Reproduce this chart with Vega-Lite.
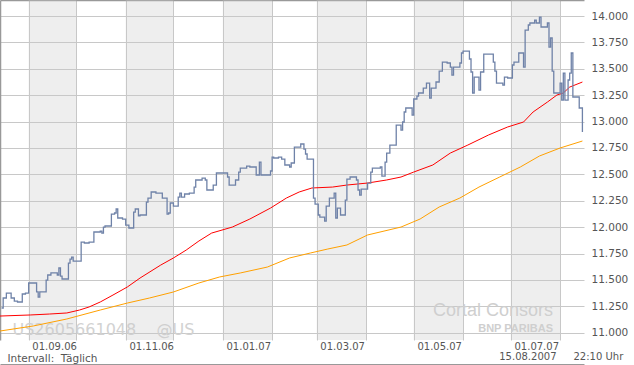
{
  "$schema": "https://vega.github.io/schema/vega-lite/v6.json",
  "width": 584,
  "height": 340,
  "autosize": {"type": "none"},
  "padding": {"left": 0, "top": 0, "right": 50, "bottom": 25},
  "background": "white",
  "config": {
    "view": {"stroke": null},
    "font": "DejaVu Sans",
    "axis": {"labelFont": "DejaVu Sans", "titleFont": "DejaVu Sans", "titleFontWeight": "normal"}
  },
  "title": {
    "text": "Cortal Consors",
    "subtitle": "BNP PARIBAS",
    "orient": "top",
    "anchor": "end",
    "frame": "group",
    "dx": -31,
    "dy": 338,
    "font": "Liberation Sans",
    "fontSize": 18,
    "fontWeight": "normal",
    "color": "#cfcfcf",
    "subtitleFont": "Liberation Sans",
    "subtitleFontSize": 11,
    "subtitleFontWeight": "bold",
    "subtitleColor": "#cfcfcf",
    "subtitlePadding": 3
  },
  "datasets": {
    "bands": [
      {"start": "2006-09-01", "end": "2006-10-01"},
      {"start": "2006-11-01", "end": "2006-12-01"},
      {"start": "2007-01-01", "end": "2007-02-01"},
      {"start": "2007-03-01", "end": "2007-04-01"},
      {"start": "2007-05-01", "end": "2007-06-01"},
      {"start": "2007-07-01", "end": "2007-08-01"}
    ],
    "price": [
      {"d": "2006-08-15", "v": 11.234}, {"d": "2006-08-16", "v": 11.329}, {"d": "2006-08-18", "v": 11.376},
      {"d": "2006-08-21", "v": 11.329}, {"d": "2006-08-23", "v": 11.300}, {"d": "2006-08-25", "v": 11.291},
      {"d": "2006-08-28", "v": 11.367}, {"d": "2006-08-30", "v": 11.376}, {"d": "2006-09-01", "v": 11.471},
      {"d": "2006-09-06", "v": 11.386}, {"d": "2006-09-07", "v": 11.338}, {"d": "2006-09-08", "v": 11.386},
      {"d": "2006-09-12", "v": 11.499}, {"d": "2006-09-13", "v": 11.547}, {"d": "2006-09-15", "v": 11.566},
      {"d": "2006-09-19", "v": 11.547}, {"d": "2006-09-20", "v": 11.613}, {"d": "2006-09-21", "v": 11.537},
      {"d": "2006-09-22", "v": 11.509}, {"d": "2006-09-26", "v": 11.660}, {"d": "2006-09-27", "v": 11.698},
      {"d": "2006-09-28", "v": 11.717}, {"d": "2006-09-29", "v": 11.679}, {"d": "2006-10-04", "v": 11.859},
      {"d": "2006-10-06", "v": 11.850}, {"d": "2006-10-09", "v": 11.859}, {"d": "2006-10-12", "v": 11.954},
      {"d": "2006-10-16", "v": 11.963}, {"d": "2006-10-17", "v": 11.944}, {"d": "2006-10-18", "v": 12.001},
      {"d": "2006-10-19", "v": 12.011}, {"d": "2006-10-23", "v": 12.124}, {"d": "2006-10-25", "v": 12.134},
      {"d": "2006-10-26", "v": 12.172}, {"d": "2006-10-27", "v": 12.087}, {"d": "2006-10-30", "v": 12.077},
      {"d": "2006-11-01", "v": 12.020}, {"d": "2006-11-03", "v": 11.992}, {"d": "2006-11-06", "v": 12.143},
      {"d": "2006-11-07", "v": 12.172}, {"d": "2006-11-09", "v": 12.106}, {"d": "2006-11-10", "v": 12.115},
      {"d": "2006-11-14", "v": 12.238}, {"d": "2006-11-15", "v": 12.276}, {"d": "2006-11-17", "v": 12.333},
      {"d": "2006-11-20", "v": 12.323}, {"d": "2006-11-24", "v": 12.276}, {"d": "2006-11-27", "v": 12.124},
      {"d": "2006-11-28", "v": 12.134}, {"d": "2006-11-29", "v": 12.229}, {"d": "2006-12-01", "v": 12.200},
      {"d": "2006-12-04", "v": 12.285}, {"d": "2006-12-05", "v": 12.323}, {"d": "2006-12-06", "v": 12.285},
      {"d": "2006-12-08", "v": 12.314}, {"d": "2006-12-11", "v": 12.323}, {"d": "2006-12-14", "v": 12.380},
      {"d": "2006-12-15", "v": 12.447}, {"d": "2006-12-19", "v": 12.465}, {"d": "2006-12-21", "v": 12.447},
      {"d": "2006-12-22", "v": 12.352}, {"d": "2006-12-26", "v": 12.399}, {"d": "2006-12-28", "v": 12.513},
      {"d": "2007-01-04", "v": 12.475}, {"d": "2007-01-05", "v": 12.399}, {"d": "2007-01-09", "v": 12.447},
      {"d": "2007-01-11", "v": 12.522}, {"d": "2007-01-12", "v": 12.560}, {"d": "2007-01-16", "v": 12.579},
      {"d": "2007-01-18", "v": 12.570}, {"d": "2007-01-22", "v": 12.494}, {"d": "2007-01-24", "v": 12.617},
      {"d": "2007-01-25", "v": 12.494}, {"d": "2007-01-31", "v": 12.532}, {"d": "2007-02-01", "v": 12.664},
      {"d": "2007-02-02", "v": 12.655}, {"d": "2007-02-05", "v": 12.664}, {"d": "2007-02-07", "v": 12.645},
      {"d": "2007-02-09", "v": 12.589}, {"d": "2007-02-12", "v": 12.570}, {"d": "2007-02-13", "v": 12.608},
      {"d": "2007-02-15", "v": 12.759}, {"d": "2007-02-19", "v": 12.788}, {"d": "2007-02-21", "v": 12.740},
      {"d": "2007-02-22", "v": 12.693}, {"d": "2007-02-23", "v": 12.645}, {"d": "2007-02-27", "v": 12.276},
      {"d": "2007-02-28", "v": 12.219}, {"d": "2007-03-02", "v": 12.115}, {"d": "2007-03-03", "v": 12.096},
      {"d": "2007-03-06", "v": 12.058}, {"d": "2007-03-07", "v": 12.200}, {"d": "2007-03-09", "v": 12.276},
      {"d": "2007-03-12", "v": 12.323}, {"d": "2007-03-13", "v": 12.087}, {"d": "2007-03-14", "v": 12.181},
      {"d": "2007-03-16", "v": 12.115}, {"d": "2007-03-19", "v": 12.257}, {"d": "2007-03-20", "v": 12.456},
      {"d": "2007-03-22", "v": 12.475}, {"d": "2007-03-26", "v": 12.447}, {"d": "2007-03-27", "v": 12.352},
      {"d": "2007-03-28", "v": 12.304}, {"d": "2007-03-29", "v": 12.361}, {"d": "2007-04-02", "v": 12.418},
      {"d": "2007-04-04", "v": 12.522}, {"d": "2007-04-05", "v": 12.560}, {"d": "2007-04-10", "v": 12.570},
      {"d": "2007-04-11", "v": 12.484}, {"d": "2007-04-13", "v": 12.617}, {"d": "2007-04-14", "v": 12.702},
      {"d": "2007-04-16", "v": 12.778}, {"d": "2007-04-20", "v": 12.967}, {"d": "2007-04-23", "v": 12.920},
      {"d": "2007-04-24", "v": 12.996}, {"d": "2007-04-25", "v": 13.091}, {"d": "2007-04-26", "v": 13.129},
      {"d": "2007-04-30", "v": 13.062}, {"d": "2007-05-01", "v": 13.214}, {"d": "2007-05-03", "v": 13.242},
      {"d": "2007-05-04", "v": 13.271}, {"d": "2007-05-07", "v": 13.318}, {"d": "2007-05-09", "v": 13.365},
      {"d": "2007-05-11", "v": 13.223}, {"d": "2007-05-12", "v": 13.318}, {"d": "2007-05-15", "v": 13.375},
      {"d": "2007-05-17", "v": 13.479}, {"d": "2007-05-19", "v": 13.564}, {"d": "2007-05-22", "v": 13.555},
      {"d": "2007-05-24", "v": 13.517}, {"d": "2007-05-25", "v": 13.441}, {"d": "2007-05-26", "v": 13.517},
      {"d": "2007-05-30", "v": 13.555}, {"d": "2007-05-31", "v": 13.650}, {"d": "2007-06-01", "v": 13.668},
      {"d": "2007-06-05", "v": 13.593}, {"d": "2007-06-06", "v": 13.470}, {"d": "2007-06-07", "v": 13.271},
      {"d": "2007-06-08", "v": 13.422}, {"d": "2007-06-11", "v": 13.299}, {"d": "2007-06-12", "v": 13.470},
      {"d": "2007-06-14", "v": 13.640}, {"d": "2007-06-20", "v": 13.564}, {"d": "2007-06-21", "v": 13.479},
      {"d": "2007-06-22", "v": 13.365}, {"d": "2007-06-26", "v": 13.346}, {"d": "2007-06-27", "v": 13.422},
      {"d": "2007-06-29", "v": 13.413}, {"d": "2007-07-02", "v": 13.536}, {"d": "2007-07-03", "v": 13.564},
      {"d": "2007-07-06", "v": 13.650}, {"d": "2007-07-09", "v": 13.517}, {"d": "2007-07-10", "v": 13.867},
      {"d": "2007-07-12", "v": 13.915}, {"d": "2007-07-13", "v": 13.934}, {"d": "2007-07-16", "v": 13.962},
      {"d": "2007-07-17", "v": 13.934}, {"d": "2007-07-19", "v": 13.990}, {"d": "2007-07-20", "v": 13.896},
      {"d": "2007-07-24", "v": 13.934}, {"d": "2007-07-25", "v": 13.706}, {"d": "2007-07-26", "v": 13.792},
      {"d": "2007-07-27", "v": 13.479}, {"d": "2007-07-28", "v": 13.271}, {"d": "2007-08-01", "v": 13.365},
      {"d": "2007-08-02", "v": 13.204}, {"d": "2007-08-03", "v": 13.460}, {"d": "2007-08-04", "v": 13.204},
      {"d": "2007-08-06", "v": 13.394}, {"d": "2007-08-07", "v": 13.460}, {"d": "2007-08-08", "v": 13.650},
      {"d": "2007-08-09", "v": 13.233}, {"d": "2007-08-13", "v": 13.129}, {"d": "2007-08-15", "v": 12.901}
    ],
    "ma1": [
      {"d": "2006-08-14", "v": 11.158}, {"d": "2006-09-02", "v": 11.168}, {"d": "2006-09-14", "v": 11.177},
      {"d": "2006-09-25", "v": 11.187}, {"d": "2006-10-03", "v": 11.215}, {"d": "2006-10-09", "v": 11.244},
      {"d": "2006-10-16", "v": 11.291}, {"d": "2006-10-24", "v": 11.357}, {"d": "2006-11-02", "v": 11.433},
      {"d": "2006-11-10", "v": 11.518}, {"d": "2006-11-23", "v": 11.641}, {"d": "2006-12-01", "v": 11.708},
      {"d": "2006-12-09", "v": 11.783}, {"d": "2006-12-17", "v": 11.869}, {"d": "2006-12-25", "v": 11.944},
      {"d": "2007-01-07", "v": 12.001}, {"d": "2007-01-18", "v": 12.077}, {"d": "2007-01-31", "v": 12.181},
      {"d": "2007-02-10", "v": 12.276}, {"d": "2007-02-18", "v": 12.333}, {"d": "2007-02-26", "v": 12.371},
      {"d": "2007-03-11", "v": 12.380}, {"d": "2007-03-20", "v": 12.399}, {"d": "2007-04-02", "v": 12.418},
      {"d": "2007-04-14", "v": 12.447}, {"d": "2007-04-23", "v": 12.475}, {"d": "2007-05-01", "v": 12.522},
      {"d": "2007-05-13", "v": 12.589}, {"d": "2007-05-24", "v": 12.702}, {"d": "2007-06-04", "v": 12.778},
      {"d": "2007-06-17", "v": 12.873}, {"d": "2007-06-29", "v": 12.949}, {"d": "2007-07-09", "v": 12.996},
      {"d": "2007-07-15", "v": 13.091}, {"d": "2007-07-24", "v": 13.185}, {"d": "2007-07-30", "v": 13.252},
      {"d": "2007-08-03", "v": 13.271}, {"d": "2007-08-07", "v": 13.327}, {"d": "2007-08-15", "v": 13.375}
    ],
    "ma2": [
      {"d": "2006-08-14", "v": 11.016}, {"d": "2006-09-04", "v": 11.064}, {"d": "2006-09-25", "v": 11.130},
      {"d": "2006-10-16", "v": 11.215}, {"d": "2006-11-02", "v": 11.281}, {"d": "2006-11-16", "v": 11.329},
      {"d": "2006-12-01", "v": 11.386}, {"d": "2006-12-17", "v": 11.471}, {"d": "2006-12-30", "v": 11.528},
      {"d": "2007-01-12", "v": 11.566}, {"d": "2007-01-29", "v": 11.622}, {"d": "2007-02-12", "v": 11.708},
      {"d": "2007-02-25", "v": 11.755}, {"d": "2007-03-08", "v": 11.793}, {"d": "2007-03-20", "v": 11.831},
      {"d": "2007-04-02", "v": 11.926}, {"d": "2007-04-23", "v": 12.001}, {"d": "2007-05-05", "v": 12.077},
      {"d": "2007-05-17", "v": 12.191}, {"d": "2007-05-30", "v": 12.276}, {"d": "2007-06-11", "v": 12.380},
      {"d": "2007-06-24", "v": 12.475}, {"d": "2007-07-07", "v": 12.570}, {"d": "2007-07-19", "v": 12.674},
      {"d": "2007-08-01", "v": 12.750}, {"d": "2007-08-15", "v": 12.816}
    ]
  },
  "resolve": {"axis": {"x": "independent", "y": "independent"}},
  "layer": [
    {
      "data": {"name": "bands"},
      "mark": {"type": "rect", "color": "#c8c8c8", "opacity": 0.31},
      "encoding": {
        "x": {
          "field": "start", "type": "temporal",
          "scale": {"type": "utc", "domain": [{"year": 2006, "month": 8, "date": 14, "utc": true}, {"year": 2007, "month": 8, "date": 16, "utc": true}]},
          "axis": {
            "orient": "bottom",
            "values": [
              {"year": 2006, "month": 9, "date": 1, "utc": true}, {"year": 2006, "month": 10, "date": 1, "utc": true},
              {"year": 2006, "month": 11, "date": 1, "utc": true}, {"year": 2006, "month": 12, "date": 1, "utc": true},
              {"year": 2007, "month": 1, "date": 1, "utc": true}, {"year": 2007, "month": 2, "date": 1, "utc": true},
              {"year": 2007, "month": 3, "date": 1, "utc": true}, {"year": 2007, "month": 4, "date": 1, "utc": true},
              {"year": 2007, "month": 5, "date": 1, "utc": true}, {"year": 2007, "month": 6, "date": 1, "utc": true},
              {"year": 2007, "month": 7, "date": 1, "utc": true}, {"year": 2007, "month": 8, "date": 1, "utc": true}
            ],
            "grid": true, "gridColor": "#c8c8c8", "gridOpacity": 1,
            "labels": false, "ticks": false, "domain": false,
            "title": "Intervall:\u00a0 Täglich", "titleX": 7, "titleY": 18,
            "titleAlign": "left", "titleBaseline": "middle", "titleAngle": 0,
            "titleColor": "#555555", "titleFontSize": 10.5
          }
        },
        "x2": {"field": "end"}
      }
    },
    {
      "data": {"name": "ma2"},
      "mark": {"type": "line", "color": "#ffa000", "strokeWidth": 1},
      "encoding": {
        "x": {
          "field": "d", "type": "temporal",
          "scale": {"type": "utc", "domain": [{"year": 2006, "month": 8, "date": 14, "utc": true}, {"year": 2007, "month": 8, "date": 16, "utc": true}]},
          "axis": {
            "orient": "bottom",
            "values": [
              {"year": 2006, "month": 9, "date": 17, "utc": true}, {"year": 2006, "month": 11, "date": 17, "utc": true},
              {"year": 2007, "month": 1, "date": 17, "utc": true}, {"year": 2007, "month": 3, "date": 17, "utc": true},
              {"year": 2007, "month": 5, "date": 17, "utc": true}, {"year": 2007, "month": 7, "date": 17, "utc": true}
            ],
            "labelExpr": "'01.' + utcFormat(datum.value, '%m.%y')",
            "labelAlign": "center", "labelPadding": 1, "labelColor": "#555555", "labelFontSize": 10,
            "grid": false, "ticks": false, "domain": false,
            "title": "15.08.2007", "titleX": 556, "titleY": 16,
            "titleAlign": "right", "titleBaseline": "middle", "titleAngle": 0,
            "titleColor": "#555555", "titleFontSize": 10
          }
        },
        "y": {
          "field": "v", "type": "quantitative",
          "scale": {"domain": [10.931, 14.152], "nice": false, "zero": false},
          "axis": {
            "orient": "right",
            "values": [11, 11.25, 11.5, 11.75, 12, 12.25, 12.5, 12.75, 13, 13.25, 13.5, 13.75, 14],
            "format": ".3f", "labelColor": "#555555", "labelFontSize": 10.5, "labelPadding": 7,
            "labelAlign": "left", "labelBaseline": "middle",
            "ticks": false, "domain": false, "grid": true, "gridColor": "#c8c8c8", "gridOpacity": 1,
            "title": null
          }
        }
      }
    },
    {
      "data": {"name": "ma1"},
      "mark": {"type": "line", "color": "#ff0000", "strokeWidth": 1},
      "encoding": {
        "x": {
          "field": "d", "type": "temporal",
          "scale": {"type": "utc", "domain": [{"year": 2006, "month": 8, "date": 14, "utc": true}, {"year": 2007, "month": 8, "date": 16, "utc": true}]},
          "axis": {
            "orient": "bottom", "offset": 24,
            "domain": true, "domainColor": "#999999", "domainWidth": 1,
            "labels": false, "ticks": false, "grid": false,
            "title": "22:10 Uhr", "titleX": 573, "titleY": -8,
            "titleAlign": "left", "titleBaseline": "middle", "titleAngle": 0,
            "titleColor": "#555555", "titleFontSize": 10
          }
        },
        "y": {
          "field": "v", "type": "quantitative",
          "scale": {"domain": [10.931, 14.152], "nice": false, "zero": false},
          "axis": {
            "orient": "left", "domain": true, "domainColor": "#999999", "domainWidth": 1.5,
            "labels": false, "ticks": false, "grid": false,
            "title": "US2605661048\u00a0\u00a0\u00a0\u00a0@US", "titleAngle": 0, "titleX": 12, "titleY": 329,
            "titleAlign": "left", "titleBaseline": "middle",
            "titleColor": "#d2d2d2", "titleFontSize": 16
          }
        }
      }
    },
    {
      "data": {"name": "price"},
      "mark": {"type": "line", "color": "#6f82a8", "strokeWidth": 1.3, "interpolate": "step-after"},
      "encoding": {
        "x": {
          "field": "d", "type": "temporal",
          "scale": {"type": "utc", "domain": [{"year": 2006, "month": 8, "date": 14, "utc": true}, {"year": 2007, "month": 8, "date": 16, "utc": true}]},
          "axis": {
            "orient": "top", "domain": true, "domainColor": "#999999", "domainWidth": 1.5,
            "labels": false, "ticks": false, "grid": false, "title": null
          }
        },
        "y": {
          "field": "v", "type": "quantitative",
          "scale": {"domain": [10.931, 14.152], "nice": false, "zero": false},
          "axis": null
        }
      }
    }
  ]
}
